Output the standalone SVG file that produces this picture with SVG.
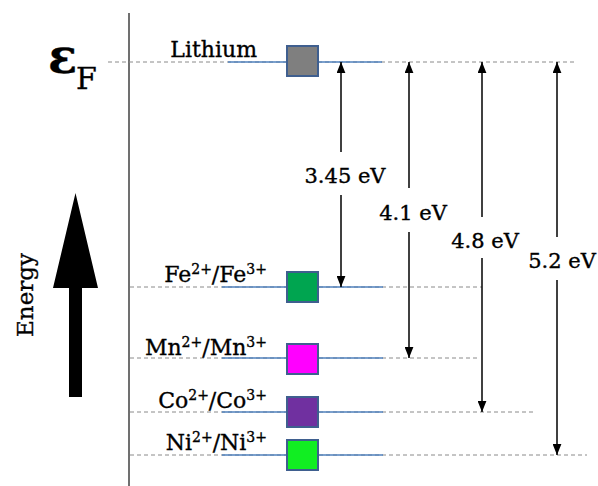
<svg xmlns="http://www.w3.org/2000/svg" width="598" height="486" viewBox="0 0 598 486">
<style>
.t{font-family:"DejaVu Serif","Liberation Serif",serif;fill:#000;font-size:22px;stroke:#000;stroke-width:0.35}
.ev{font-size:21px}
.sup{font-size:14px}
.dash{stroke:#8a8a8a;stroke-width:1;stroke-dasharray:4 3;fill:none}
.blue{stroke:#4f81bd;stroke-width:1.5;fill:none}
.sq{stroke:#3f5f8f;stroke-width:2}
.arr{stroke:#000;stroke-width:1.5;fill:none;marker-end:url(#ah)}
</style>
<defs>
<marker id="ah" viewBox="0 0 10 8" refX="10" refY="4" markerWidth="11" markerHeight="9" orient="auto" markerUnits="userSpaceOnUse">
<path d="M0,0 L10,4 L0,8 z" fill="#000"/>
</marker>
</defs>
<rect width="598" height="486" fill="#fff"/>
<g id="axis">
<line x1="129" y1="13" x2="129" y2="486" stroke="#707070" stroke-width="2"/>
</g>
<g id="energy-arrow">
<polygon points="75.5,193 98,288 82,288 82,397 69,397 69,288 53,288" fill="#000"/>
<text class="t" transform="translate(33,295) rotate(-90)" text-anchor="middle" style="font-size:23px">Energy</text>
</g>
<g id="fermi">
<text class="t" x="48" y="73" style="font-size:48px;font-weight:bold">ε</text>
<text class="t" x="76" y="89" style="font-size:30px">F</text>
</g>
<g id="level-lines">
<line class="dash" x1="108" y1="62" x2="576" y2="62"/>
<line class="dash" x1="130" y1="287" x2="482" y2="287"/>
<line class="dash" x1="130" y1="358" x2="480" y2="358"/>
<line class="dash" x1="130" y1="412" x2="534" y2="412"/>
<line class="dash" x1="130" y1="455" x2="587" y2="455"/>
<line class="blue" x1="228" y1="62" x2="382" y2="62"/>
<line class="blue" x1="222" y1="287" x2="383" y2="287"/>
<line class="blue" x1="222" y1="358" x2="383" y2="358"/>
<line class="blue" x1="222" y1="412" x2="383" y2="412"/>
<line class="blue" x1="222" y1="455" x2="383" y2="455"/>
</g>
<g id="lithium">
<rect class="sq" x="287" y="46" width="31" height="30" fill="#7f7f7f"/>
<text class="t" x="257" y="57" text-anchor="end">Lithium</text>
</g>
<g id="fe">
<rect class="sq" x="287" y="272" width="31" height="30" fill="#00a550"/>
<text class="t" x="267" y="282" text-anchor="end">Fe<tspan class="sup" dy="-8">2+</tspan><tspan dy="8">/Fe</tspan><tspan class="sup" dy="-8">3+</tspan></text>
</g>
<g id="mn">
<rect class="sq" x="287" y="344" width="31" height="30" fill="#ff00ff"/>
<text class="t" x="267" y="355" text-anchor="end">Mn<tspan class="sup" dy="-8">2+</tspan><tspan dy="8">/Mn</tspan><tspan class="sup" dy="-8">3+</tspan></text>
</g>
<g id="co">
<rect class="sq" x="287" y="397" width="31" height="30" fill="#7030a0"/>
<text class="t" x="267" y="408" text-anchor="end">Co<tspan class="sup" dy="-8">2+</tspan><tspan dy="8">/Co</tspan><tspan class="sup" dy="-8">3+</tspan></text>
</g>
<g id="ni">
<rect class="sq" x="287" y="440" width="31" height="30" fill="#11ee22"/>
<text class="t" x="267" y="450" text-anchor="end">Ni<tspan class="sup" dy="-8">2+</tspan><tspan dy="8">/Ni</tspan><tspan class="sup" dy="-8">3+</tspan></text>
</g>
<g id="connectors">
<line class="arr" x1="341" y1="152" x2="341" y2="62"/>
<line class="arr" x1="341" y1="195" x2="341" y2="287"/>
<line class="arr" x1="409" y1="188" x2="409" y2="62"/>
<line class="arr" x1="409" y1="232" x2="409" y2="358"/>
<line class="arr" x1="482" y1="217" x2="482" y2="62"/>
<line class="arr" x1="482" y1="258" x2="482" y2="412"/>
<line class="arr" x1="557" y1="237" x2="557" y2="62"/>
<line class="arr" x1="557" y1="280" x2="557" y2="455"/>
<text class="t ev" x="345" y="183" text-anchor="middle">3.45 eV</text>
<text class="t ev" x="413" y="220" text-anchor="middle">4.1 eV</text>
<text class="t ev" x="485" y="248" text-anchor="middle">4.8 eV</text>
<text class="t ev" x="562" y="268" text-anchor="middle">5.2 eV</text>
</g>
</svg>
